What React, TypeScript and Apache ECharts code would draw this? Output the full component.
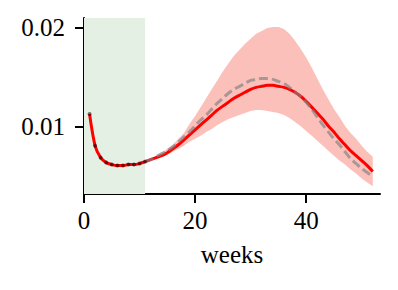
import React, { useEffect, useRef } from "react";
import * as echarts from "echarts";

const weeks: number[] = Array.from({ length: 52 }, (_, i) => i + 1);

const meanCurve: number[] = [
  0.0113, 0.0081, 0.0069, 0.0064, 0.0062, 0.0061, 0.0061, 0.0062, 0.0062, 0.0063,
  0.0065, 0.0067, 0.0069, 0.0071, 0.0074, 0.0078, 0.0082, 0.0087, 0.0092, 0.0097,
  0.0102, 0.0107, 0.0112, 0.0117, 0.0121, 0.0125, 0.0129, 0.0132, 0.0135, 0.0138,
  0.014, 0.0141, 0.0142, 0.0142, 0.0141, 0.014, 0.0138, 0.0135, 0.0131, 0.0126,
  0.012, 0.0114, 0.0108, 0.0101, 0.0095, 0.0088, 0.0082, 0.0076, 0.0071, 0.0066,
  0.0061, 0.0055,
];

const observedWeeks: number[] = [1, 2, 3, 4, 5, 6, 7, 8, 9, 10, 11];
const observed: number[] = [
  0.0113, 0.0081, 0.0069, 0.0064, 0.0062, 0.0061, 0.0061, 0.0062, 0.0062, 0.0063, 0.0065,
];

const forecastWeeks: number[] = Array.from({ length: 42 }, (_, i) => i + 11);

const upper: number[] = [
  0.0066, 0.0068, 0.0071, 0.0074, 0.0078, 0.0082, 0.0088, 0.0094, 0.0103, 0.0111,
  0.012, 0.0129, 0.0138, 0.0147, 0.0156, 0.0164, 0.0172, 0.0178, 0.0184, 0.0189,
  0.0194, 0.0197, 0.02, 0.0201, 0.0201, 0.0199, 0.0194, 0.0187, 0.0179, 0.017,
  0.016, 0.0149, 0.0138, 0.0128, 0.0118, 0.011, 0.0101, 0.0094, 0.0088, 0.0081,
  0.0075, 0.007,
];

const lower: number[] = [
  0.0064, 0.0066, 0.0068, 0.007, 0.0072, 0.0075, 0.0078, 0.0081, 0.0085, 0.0088,
  0.0091, 0.0095, 0.0098, 0.0102, 0.0105, 0.0108, 0.011, 0.0112, 0.0114, 0.0116,
  0.0117, 0.0117, 0.0116, 0.0115, 0.0114, 0.0112, 0.0109, 0.0105, 0.0101, 0.0096,
  0.0091, 0.0086, 0.0081, 0.0076, 0.0071, 0.0066, 0.0062, 0.0057, 0.0053, 0.0048,
  0.0044, 0.004,
];

const dashedCurve: number[] = [
  0.0065, 0.0067, 0.007, 0.0073, 0.0076, 0.008, 0.0085, 0.009, 0.0095, 0.0101,
  0.0107, 0.0112, 0.0118, 0.0124, 0.0129, 0.0134, 0.0138, 0.0141, 0.0144, 0.0147,
  0.0148, 0.0149, 0.0149, 0.0148, 0.0146, 0.0144, 0.014, 0.0135, 0.0131, 0.0125,
  0.0118, 0.011, 0.0102, 0.0095, 0.0088, 0.0082, 0.0075, 0.0068, 0.0063, 0.0058,
  0.0054, 0.005,
];

const xTicks: number[] = [0, 20, 40];
const yTicks: number[] = [0.01, 0.02];
const shadedRange: [number, number] = [0, 11];

export default function App() {
  const ref = useRef<HTMLDivElement>(null);
  useEffect(() => {
    if (!ref.current) return;
    const chart = echarts.init(ref.current, null, { renderer: "svg" });
    const font = "Liberation Serif";
    chart.setOption({
      animation: false,
      grid: { left: 84, top: 18, width: 296, height: 176 },
      xAxis: {
        type: "value",
        min: 0,
        max: 53.3,
        name: "weeks",
        nameLocation: "middle",
        nameGap: 48,
        nameTextStyle: { color: "#000", fontFamily: font, fontSize: 25 },
        axisLine: { lineStyle: { color: "#000", width: 2 } },
        axisTick: { show: true, length: 9, lineStyle: { color: "#000", width: 2 }, customValues: xTicks },
        axisLabel: {
          customValues: xTicks,
          color: "#000",
          fontFamily: font,
          fontSize: 25,
          margin: 14,
        },
        splitLine: { show: false },
      },
      yAxis: {
        type: "value",
        min: 0.00323,
        max: 0.021,
        axisLine: { show: true, lineStyle: { color: "#000", width: 2 } },
        axisTick: { show: true, length: 9, lineStyle: { color: "#000", width: 2 }, customValues: yTicks },
        axisLabel: {
          customValues: yTicks,
          color: "#000",
          fontFamily: font,
          fontSize: 25,
          margin: 19,
          formatter: (v: number) => v.toFixed(2),
        },
        splitLine: { show: false },
      },
      series: [
        {
          type: "line",
          data: [],
          silent: true,
          markArea: {
            silent: true,
            itemStyle: { color: "#e4f0e4" },
            data: [[{ xAxis: shadedRange[0] }, { xAxis: shadedRange[1] }]],
          },
        },
        {
          type: "custom",
          silent: true,
          data: [0],
          z: 1,
          renderItem: (_params: any, api: any) => {
            const top = forecastWeeks.map((w, i) => api.coord([w, upper[i]]));
            const bottom = forecastWeeks
              .map((w, i) => api.coord([w, lower[i]]))
              .reverse();
            return {
              type: "polygon",
              shape: { points: top.concat(bottom) },
              style: { fill: "#fcc0bb", stroke: "none" },
            };
          },
        },
        {
          type: "line",
          data: weeks.map((w, i) => [w, meanCurve[i]]),
          symbol: "none",
          smooth: 0.3,
          lineStyle: { color: "#ff0000", width: 3 },
          z: 3,
        },
        {
          type: "line",
          data: forecastWeeks.map((w, i) => [w, dashedCurve[i]]),
          symbol: "none",
          smooth: 0.3,
          lineStyle: { color: "rgba(128,128,128,0.65)", width: 3, type: [9, 4] },
          z: 4,
        },
        {
          type: "scatter",
          data: observedWeeks.map((w, i) => [w, observed[i]]),
          symbolSize: 4,
          itemStyle: { color: "rgba(0,0,0,0.65)" },
          z: 5,
        },
      ],
    });
    return () => chart.dispose();
  }, []);
  return (
    <div
      ref={ref}
      style={{ position: "fixed", left: 0, top: 0, width: 398, height: 290, background: "#fff" }}
    />
  );
}
